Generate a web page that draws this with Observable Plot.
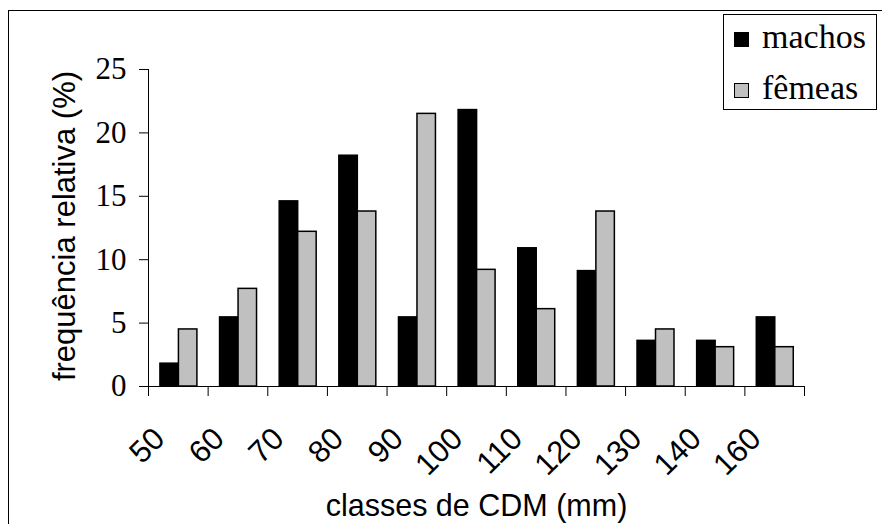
<!DOCTYPE html>
<html>
<head>
<meta charset="utf-8">
<script src="https://cdn.jsdelivr.net/npm/d3@7"></script>
<script src="https://cdn.jsdelivr.net/npm/@observablehq/plot@0.6"></script>
<style>
  html, body { margin: 0; padding: 0; background: #fff; }
  #wrap { position: relative; width: 882px; height: 524px; overflow: hidden; }
  #frame { position: absolute; left: 8px; top: 10px; width: 1000px; height: 1000px;
           border-left: 1.5px solid #000; border-top: 1.5px solid #000; pointer-events: none; }
  #chart [aria-label^="y-axis"] text { font-family: "Liberation Serif", serif; font-size: 31px; }
  #legend { position: absolute; left: 723px; top: 14px; width: 152px; height: 94px;
            border: 1.5px solid #000; background: #fff; font-family: "Liberation Serif", serif; font-size: 34px; }
  #legend .item { position: absolute; left: 10px; height: 40px; line-height: 1; }
  #legend .sw { position: absolute; left: 0; width: 13px; height: 13px; border: 1.5px solid #000; }
  #legend .lab { position: absolute; left: 28px; white-space: nowrap; }
</style>
</head>
<body>
<div id="wrap">
  <div id="chart"></div>
  <div id="frame"></div>
  <div id="legend"></div>
</div>
<script>
const classes = ["50", "60", "70", "80", "90", "100", "110", "120", "130", "140", "160"];
const machos = [1.8, 5.45, 14.6, 18.2, 5.45, 21.8, 10.9, 9.1, 3.6, 3.6, 5.45];
const femeas = [4.5, 7.7, 12.2, 13.8, 21.5, 9.2, 6.1, 13.8, 4.5, 3.1, 3.1];
const yTicks = [0, 5, 10, 15, 20, 25];
const seriesNames = ["machos", "fêmeas"];
const seriesColors = ["#000000", "#c0c0c0"];
const yTitle = "frequência relativa (%)";
const xTitle = "classes de CDM (mm)";

const rows = [];
classes.forEach((c, i) => {
  rows.push({cls: c, i, sex: seriesNames[0], v: machos[i], k: 0});
  rows.push({cls: c, i, sex: seriesNames[1], v: femeas[i], k: 1});
});
// bar placement within each class interval (fractions of the class step)
const barStart = 0.2, barWidth = 0.31;
const boundaries = d3.range(classes.length + 1);

const chart = Plot.plot({
  width: 882,
  height: 524,
  marginLeft: 148,
  marginRight: 78,
  marginTop: 69,
  marginBottom: 138,
  style: {fontFamily: "'Liberation Sans', Arial, sans-serif", fontSize: "28px", color: "#000", background: "transparent"},
  x: {domain: [0, classes.length], ticks: boundaries, tickFormat: () => "", tickSize: 10, line: true, label: null},
  y: {domain: [0, 25], ticks: yTicks, tickSize: 9, tickPadding: 13, line: true, label: null},
  color: {domain: seriesNames, range: seriesColors},
  marks: [
    Plot.rectY(rows, {
      x1: d => d.i + barStart + d.k * barWidth,
      x2: d => d.i + barStart + (d.k + 1) * barWidth,
      y1: 0,
      y2: "v",
      fill: "sex",
      stroke: "#000",
      strokeWidth: 1.5
    }),
    Plot.text(classes, {
      x: (d, i) => i + 0.5,
      y: () => 0,
      text: d => d,
      rotate: -45,
      textAnchor: "end",
      lineAnchor: "bottom",
      dx: -12,
      dy: 54,
      fontSize: 31
    }),
    Plot.text([yTitle], {
      frameAnchor: "left",
      text: d => d,
      rotate: -90,
      textAnchor: "middle",
      lineAnchor: "middle",
      dx: -83,
      dy: -2,
      fontSize: 31
    }),
    Plot.text([xTitle], {
      frameAnchor: "bottom",
      text: d => d,
      textAnchor: "middle",
      lineAnchor: "bottom",
      dy: 129,
      fontSize: 30.5
    })
  ]
});
document.getElementById("chart").appendChild(chart);

// legend
const legend = document.getElementById("legend");
const itemTops = [17, 68];
seriesNames.forEach((name, k) => {
  const item = document.createElement("div");
  item.className = "item";
  item.style.top = itemTops[k] + "px";
  const sw = document.createElement("div");
  sw.className = "sw";
  sw.style.background = seriesColors[k];
  sw.style.top = "0px";
  const lab = document.createElement("div");
  lab.className = "lab";
  lab.style.top = "-12px";
  lab.textContent = name;
  item.appendChild(sw);
  item.appendChild(lab);
  legend.appendChild(item);
});
</script>
</body>
</html>
